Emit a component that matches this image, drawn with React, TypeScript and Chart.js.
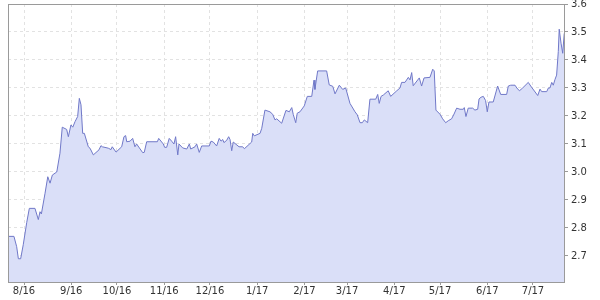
import React, { useEffect, useRef } from "react";
import { Chart, registerables } from "chart.js";

Chart.register(...registerables);

// Days since 2016-08-01
const dayOffsets = [
  -10.5, -6.6, -4.8, -3.7, -2.2, -0.5, 1.8, 3.5, 7.2, 9.4, 10.5, 11.4, 13.8, 15.6, 17.1, 18.6,
  21.5, 23.6, 25.1, 28.0, 29.1, 30.8, 32.0, 33.5, 35.2, 36.3, 37.4, 38.5, 39.6, 42.2, 43.3, 45.5,
  49.2, 50.5, 51.4, 55.3, 57.1, 57.9, 60.4, 64.1, 65.6, 66.7, 67.4, 69.6, 71.3, 72.8, 73.9, 77.9,
  78.9, 80.5, 87.5, 88.4, 91.4, 92.3, 93.6, 95.3, 96.9, 98.4, 99.5, 100.9, 101.7, 104.1, 106.8,
  108.5, 109.4, 112.2, 113.3, 115.0, 116.6, 121.6, 122.7, 124.2, 126.4, 128.1, 129.3, 130.4,
  131.2, 133.0, 134.3, 135.2, 136.3, 137.3, 141.1, 143.5, 144.6, 149.4, 150.1, 151.1, 154.9,
  156.0, 158.1, 161.4, 163.2, 164.7, 165.8, 169.1, 171.9, 174.1, 175.7, 176.7, 178.3, 179.3,
  181.1, 183.9, 185.9, 188.8, 190.3, 190.9, 192.7, 198.6, 200.3, 202.6, 204.1, 206.9, 209.1,
  211.1, 213.9, 217.2, 218.7, 220.5, 222.0, 223.3, 225.5, 227.0, 230.8, 232.1, 233.1, 234.3,
  235.8, 239.0, 240.6, 244.6, 246.7, 247.8, 250.0, 252.2, 253.3, 254.4, 255.4, 259.4, 260.9,
  262.5, 266.4, 268.2, 269.2, 270.3, 273.0, 274.7, 276.7, 278.4, 280.6, 282.2, 283.9, 286.1,
  288.3, 288.9, 290.0, 291.5, 294.4, 295.9, 297.7, 298.6, 299.9, 301.4, 302.9, 304.0, 305.1,
  307.9, 310.8, 312.8, 316.7, 317.8, 319.4, 322.2, 323.4, 325.1, 327.2, 330.9, 332.5, 337.1,
  338.6, 339.7, 343.0, 344.1, 345.1, 346.3, 347.3, 348.4, 349.5, 350.6, 351.2, 352.4, 353.5, 354.5,
];

const rates = [
  2.77, 2.77, 2.733, 2.69, 2.69, 2.74, 2.82, 2.87, 2.87, 2.83, 2.858, 2.85, 2.924, 2.983, 2.96, 2.989,
  3.0, 3.067, 3.16, 3.152, 3.126, 3.168, 3.16, 3.18, 3.198, 3.263, 3.24, 3.138, 3.138, 3.09, 3.085, 3.061,
  3.079, 3.094, 3.09, 3.085, 3.08, 3.09, 3.071, 3.09, 3.126, 3.13, 3.108, 3.11, 3.12, 3.09, 3.1, 3.069,
  3.07, 3.108, 3.108, 3.12, 3.1, 3.088, 3.088, 3.12, 3.11, 3.1, 3.126, 3.061, 3.1, 3.086, 3.082,
  3.1, 3.082, 3.09, 3.1, 3.07, 3.093, 3.093, 3.11, 3.107, 3.093, 3.12, 3.11, 3.116,
  3.105, 3.113, 3.126, 3.116, 3.076, 3.107, 3.09, 3.09, 3.083, 3.107, 3.138, 3.129, 3.138,
  3.156, 3.221, 3.215, 3.206, 3.186, 3.19, 3.174, 3.22, 3.215, 3.23, 3.205, 3.176, 3.21,
  3.215, 3.236, 3.27, 3.27, 3.328, 3.295, 3.361, 3.361, 3.311, 3.306, 3.279, 3.31, 3.295,
  3.3, 3.245, 3.215, 3.204, 3.176, 3.176, 3.186, 3.176, 3.26, 3.26, 3.277, 3.245, 3.27,
  3.275, 3.29, 3.27, 3.29, 3.3, 3.32, 3.32, 3.338, 3.329, 3.355, 3.308, 3.336, 3.307,
  3.336, 3.338, 3.367, 3.361, 3.221, 3.206, 3.19, 3.176, 3.183, 3.19, 3.207, 3.228, 3.224,
  3.224, 3.23, 3.198, 3.228, 3.228, 3.221, 3.224, 3.261, 3.267, 3.27, 3.255, 3.215, 3.25,
  3.25, 3.307, 3.277, 3.277, 3.307, 3.31, 3.31, 3.3, 3.29, 3.3, 3.32, 3.307, 3.273,
  3.296, 3.287, 3.287, 3.3, 3.3, 3.32, 3.31, 3.33, 3.346, 3.43, 3.51, 3.46, 3.424, 3.495,
];

const monthDays = [0, 31, 61, 92, 122, 153, 184, 212, 243, 273, 304, 334];
const monthLabels = ["8/16", "9/16", "10/16", "11/16", "12/16", "1/17", "2/17", "3/17", "4/17", "5/17", "6/17", "7/17"];
const yTicks = [2.7, 2.8, 2.9, 3.0, 3.1, 3.2, 3.3, 3.4, 3.5, 3.6];

const frame = {
  id: "frame",
  afterDraw(chart: any) {
    const { ctx, chartArea: a } = chart;
    ctx.save();
    ctx.strokeStyle = "#9a9a9a";
    ctx.lineWidth = 1;
    ctx.strokeRect(Math.round(a.left) + 0.5, Math.round(a.top) + 0.5, Math.round(a.right - a.left) - 1, Math.round(a.bottom - a.top));
    ctx.restore();
  },
};

export default function App() {
  const ref = useRef<HTMLCanvasElement | null>(null);
  useEffect(() => {
    document.body.style.margin = "0";
    const chart = new Chart(ref.current!, {
      type: "line",
      data: {
        datasets: [
          {
            data: dayOffsets.map((d, i) => ({ x: d, y: rates[i] })),
            borderColor: "rgb(112,120,200)",
            backgroundColor: "rgb(218,223,248)",
            borderWidth: 1,
            pointRadius: 0,
            fill: "start",
            tension: 0,
          },
        ],
      },
      options: {
        animation: false,
        responsive: false,
        maintainAspectRatio: false,
        layout: { padding: { left: 8, top: 4, right: 0, bottom: 0 } },
        plugins: { legend: { display: false }, tooltip: { enabled: false } },
        scales: {
          x: {
            type: "linear",
            min: -10.5,
            max: 355,
            afterBuildTicks: (scale: any) => {
              scale.ticks = monthDays.map((v) => ({ value: v }));
            },
            afterFit: (scale: any) => {
              scale.height = 18;
              scale.paddingLeft = 0;
              scale.paddingRight = 0;
            },
            ticks: {
              autoSkip: false,
              maxRotation: 0,
              padding: 0,
              color: "#333",
              font: { family: "DejaVu Sans", size: 10 },
              callback: (v: any) => {
                const i = monthDays.indexOf(Number(v));
                return i >= 0 ? monthLabels[i] : "";
              },
            },
            grid: { color: "#e2e2e2", tickColor: "#9a9a9a", tickLength: 3, drawOnChartArea: true },
            border: { display: false, dash: [3, 3] },
          },
          y: {
            type: "linear",
            position: "right",
            min: 2.607,
            max: 3.6,
            afterBuildTicks: (scale: any) => {
              scale.ticks = yTicks.map((v) => ({ value: v }));
            },
            afterFit: (scale: any) => {
              scale.width = 35;
              scale.paddingTop = 0;
              scale.paddingBottom = 0;
            },
            ticks: {
              padding: 3,
              color: "#333",
              font: { family: "DejaVu Sans", size: 10 },
              callback: (v: any) => Number(v).toFixed(1),
            },
            grid: { color: "#e2e2e2", tickColor: "#9a9a9a", tickLength: 3 },
            border: { display: false, dash: [3, 3] },
          },
        },
      },
      plugins: [frame],
    });
    return () => chart.destroy();
  }, []);
  return <canvas ref={ref} width={600} height={300} style={{ display: "block" }} />;
}
